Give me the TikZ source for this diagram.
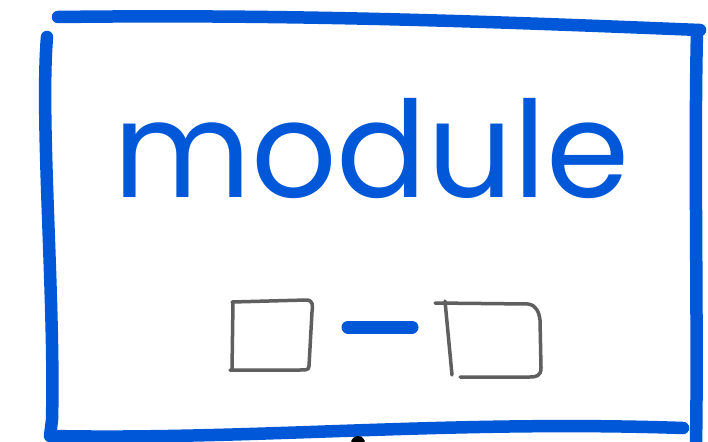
\documentclass[tikz,border=0pt]{standalone}
\usepackage{fontspec}
\setmainfont{Poppins}
\definecolor{penblue}{RGB}{0,87,216}
\definecolor{pencil}{RGB}{95,95,95}
\tikzset{
  bluestroke/.style={draw=penblue, line width=12.5pt, line cap=round, line join=round},
  graystroke/.style={draw=pencil, line width=3.5pt, line cap=round, line join=round},
}
\begin{document}
\begin{tikzpicture}[x=1pt,y=-1pt]
\useasboundingbox (0,0) rectangle (708,441);
\fill[white] (0,0) rectangle (708,441);
% frame
\draw[bluestroke] (58,17) .. controls (300,14) and (500,22) .. (700,30);
\draw[bluestroke] (47,37) .. controls (40,120) and (55,300) .. (52,420) -- (50,436);
\draw[bluestroke] (697,32) .. controls (694,150) and (698,330) .. (696,445);
\draw[bluestroke] (52,436) .. controls (250,440) and (450,420) .. (683,428);
% text
\node[anchor=base west, inner sep=0pt, text=penblue, font=\fontsize{134}{140}\selectfont] (label) at (113,197) {module};
% small squares
\draw[graystroke] (232,302) -- (306,300) .. controls (313,300) and (313,305) .. (312,312) -- (309,366) .. controls (309,370) and (306,370) .. (300,370) -- (230,370);
\draw[graystroke] (233,302) -- (232,370);
\draw[bluestroke, line width=13pt] (348,327) coordinate (dashA) -- (412,327) coordinate (dashB);
\draw[graystroke] (435,303) -- (528,304) .. controls (536,305) and (539,312) .. (540,320) -- (541,368) .. controls (541,376) and (536,377) .. (530,377) -- (460,377);
\draw[graystroke] (445,301) -- (452,375);
% dot
\fill[black] (358,443) circle (7);
\end{tikzpicture}
\end{document}
